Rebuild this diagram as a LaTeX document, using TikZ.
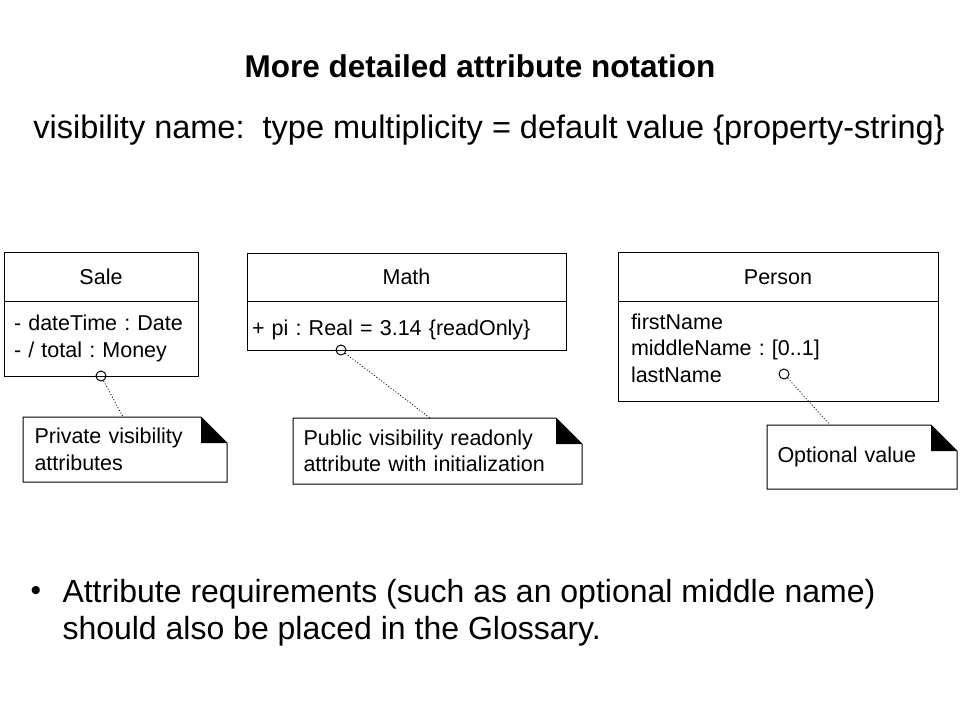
\documentclass[tikz,border=0pt]{standalone}
\usepackage{fontspec}
\setmainfont{Liberation Sans}
\usetikzlibrary{positioning}
\frenchspacing
\begin{document}
\begin{tikzpicture}[x=1pt, y=-1pt, line width=1pt,
  umlfont/.style={font=\fontsize{21.5}{26.5}\selectfont},
  head/.style={draw, umlfont, anchor=north west, outer sep=0pt, minimum height=49pt, text height=15.5pt, text depth=0pt},
  body/.style={draw, umlfont, anchor=north west, outer sep=0pt, align=left, inner xsep=10pt},
  notebox/.style={umlfont, anchor=north west, align=left, inner xsep=11pt},
  hook/.style={circle, draw, minimum size=10pt, inner sep=0pt},
  tie/.style={line width=0.8pt, dash pattern=on 1pt off 2pt}]
\useasboundingbox (0,0) rectangle (960,720);
% headings
\node[inner sep=0pt, anchor=base, font=\bfseries\fontsize{31.5}{37}\selectfont] (title) at (480,77) {More detailed attribute notation};
\node[inner sep=0pt, anchor=base, font=\fontsize{32.5}{37}\selectfont] (syntax) at (489,138) {visibility name:\ \ type multiplicity = default value \{property-string\}};
% classes
\node[head, minimum width=194pt] (sale) at (4,252) {Sale};
\node[body, text width=174pt, minimum height=75pt] (salebody) at (sale.south west) {- dateTime : Date\\- / total : Money};
\node[head, minimum width=319pt, minimum height=48pt] (math) at (247,253) {Math};
\node[body, inner xsep=5pt, text width=309pt, minimum height=49pt, text height=20pt, text depth=0pt] (mathbody) at (math.south west) {+ pi : Real = 3.14 \{readOnly\}};
\node[head, minimum width=320pt] (person) at (618,252) {Person};
\node[body, inner xsep=13pt, text width=294pt, minimum height=100pt, text depth=59pt] (personbody) at (person.south west) {firstName\\middleName : [0..1]\\lastName};
% notes
\node[notebox, text width=181pt, minimum height=64pt] (privnote) at (23,417) {Private visibility\\attributes};
\node[notebox, inner xsep=10pt, text width=268pt, minimum height=65pt] (pubnote) at (293,418) {Public visibility readonly\\attribute with initialization};
\node[notebox, inner xsep=10pt, text width=169pt, minimum height=63pt] (optnote) at (767,425) {Optional value};
\foreach \n in {privnote,pubnote,optnote}{
  \draw (\n.north west) -- ([xshift=-26pt]\n.north east) -- ([yshift=-26pt]\n.north east) -- (\n.south east) -- (\n.south west) -- cycle;
  \fill ([xshift=-26pt]\n.north east) |- ([yshift=-26pt]\n.north east) -- cycle;
}
% attachments
\node[hook] (salehook) at (101,376) {};
\node[hook] (mathhook) at (341,350) {};
\node[hook] (personhook) at (784,374) {};
\draw[tie] (salehook) -- ([xshift=100pt]privnote.north west);
\draw[tie] (mathhook) -- ([xshift=137pt]pubnote.north west);
\draw[tie] (personhook) -- ([xshift=63pt]optnote.north west);
% bullet
\node[inner sep=0pt, font=\fontsize{30}{37}\selectfont] (dot) at (36,593) {\textbullet};
\node[inner sep=0pt, anchor=west, align=left, font=\fontsize{32}{37}\selectfont] (remark) at (62,613) {Attribute requirements (such as an optional middle name)\\should also be placed in the Glossary.};
\end{tikzpicture}
\end{document}
